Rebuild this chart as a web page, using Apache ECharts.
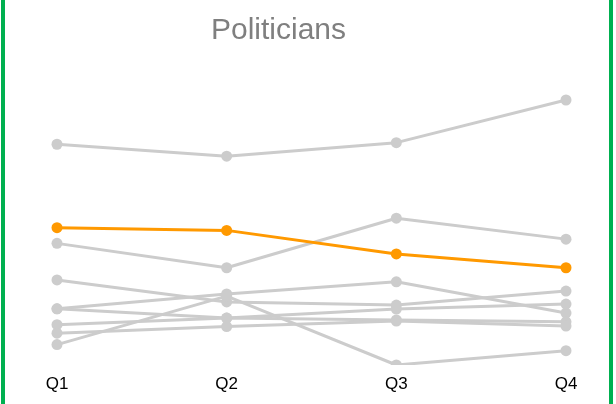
<!DOCTYPE html>
<html>
<head>
<meta charset="utf-8">
<script src="https://cdn.jsdelivr.net/npm/echarts@6/dist/echarts.min.js"></script>
<style>
  html, body { margin: 0; padding: 0; background: #fff; }
  #chart { width: 616px; height: 404px; }
</style>
</head>
<body>
<div id="chart"></div>
<script>
// Quarterly index per politician (0 = lowest, 100 = highest in the period)
const quarters = ['Q1', 'Q2', 'Q3', 'Q4'];

const politicianA = [83.3, 78.8, 83.9, 100.0];
const politicianB = [51.8, 50.8, 41.9, 36.7];   // highlighted
const politicianC = [45.9, 36.7, 55.4, 47.5];
const politicianD = [32.1, 23.8, 22.6, 27.9];
const politicianE = [21.2, 26.8, 31.4, 19.6];
const politicianF = [21.2, 17.7, 21.1, 23.0];
const politicianG = [15.2, 17.7, 17.0, 16.3];
const politicianH = [12.0, 14.5, 16.6, 14.7];
const politicianI = [7.7, 26.0, 0.0, 5.4];

const highlighted = politicianB;
const others = [politicianA, politicianC, politicianD, politicianE,
                politicianF, politicianG, politicianH, politicianI];

const GREY = '#cccccc';
const ORANGE = '#ff9900';

function lineSeries(data, color, z) {
  return {
    type: 'line',
    data: data,
    symbol: 'circle',
    symbolSize: 11,
    z: z,
    clip: true,
    lineStyle: { color: color, width: 3 },
    itemStyle: { color: color },
    emphasis: { disabled: true },
    silent: true
  };
}

const series = others.map(d => lineSeries(d, GREY, 2));
series.push(lineSeries(highlighted, ORANGE, 3));

const chart = echarts.init(document.getElementById('chart'), null, { renderer: 'canvas' });
chart.setOption({
  animation: false,
  backgroundColor: '#ffffff',
  title: {
    text: 'Politicians',
    left: 206,
    top: 11,
    textStyle: {
      fontFamily: 'Liberation Sans, Arial, sans-serif',
      fontSize: 30,
      fontWeight: 'normal',
      color: '#7f7f7f'
    }
  },
  grid: { left: 57, right: 50, top: 100, bottom: 39 },
  xAxis: {
    type: 'category',
    data: quarters,
    boundaryGap: false,
    axisLine: { show: false },
    axisTick: { show: false },
    axisLabel: {
      margin: 11,
      fontFamily: 'Liberation Sans, Arial, sans-serif',
      fontSize: 17,
      color: '#000000'
    }
  },
  yAxis: {
    type: 'value',
    min: 'dataMin',
    max: 'dataMax',
    show: false,
    splitLine: { show: false }
  },
  graphic: [
    // mask below the plotting area
    { type: 'rect', left: 30, top: 365, z: 100, silent: true,
      shape: { width: 570, height: 8 }, style: { fill: '#ffffff' } },
    // frame sides
    { type: 'rect', left: 1, top: 0, z: 100, silent: true,
      shape: { width: 4, height: 404 }, style: { fill: '#00b050' } },
    { type: 'rect', left: 609, top: 0, z: 100, silent: true,
      shape: { width: 4, height: 404 }, style: { fill: '#00b050' } }
  ],
  series: series
});
</script>
</body>
</html>
